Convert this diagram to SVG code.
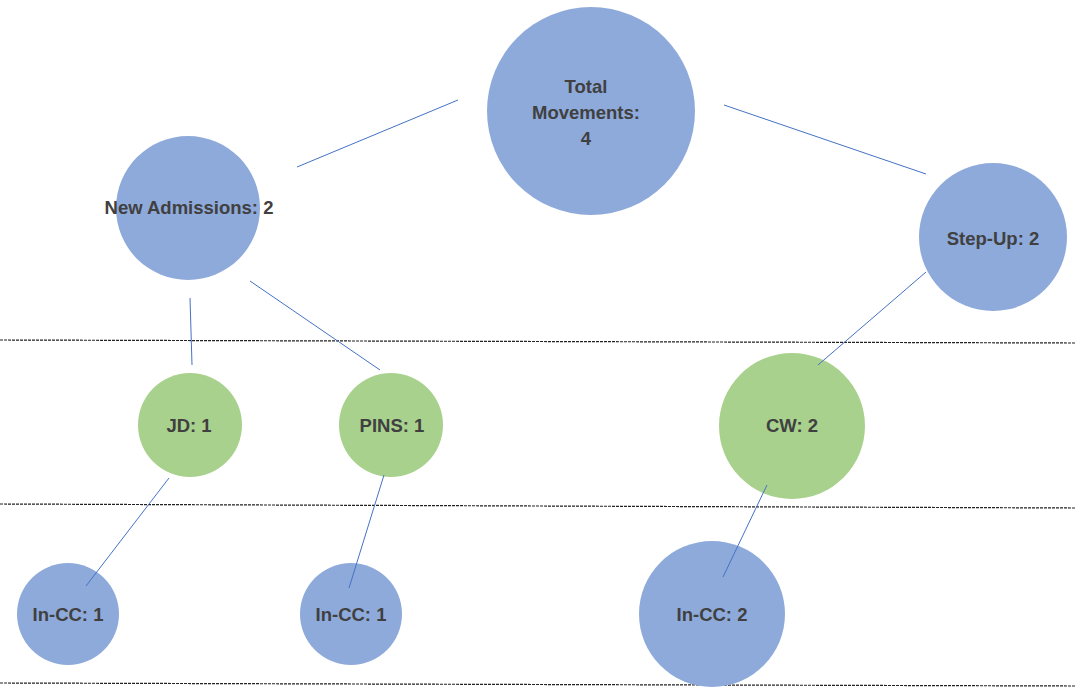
<svg xmlns="http://www.w3.org/2000/svg" width="1075" height="687" viewBox="0 0 1075 687">
<style>
.b{fill:#8EAADB}
.g{fill:#A9D18E}
text{font-family:"Liberation Sans",Arial,sans-serif;font-weight:bold;font-size:18.5px;fill:#404040;text-anchor:middle}
.c line{stroke:#4472C4;stroke-width:1}
.d line{stroke:#222;stroke-width:1.2;stroke-dasharray:3 1}
</style>
<rect width="1075" height="687" fill="#fff"/>
<g class="d">
<line x1="0" y1="340" x2="1075" y2="343"/>
<line x1="0" y1="504" x2="1075" y2="508"/>
<line x1="0" y1="683" x2="1075" y2="686"/>
</g>
<g id="total"><circle class="b" cx="591" cy="111" r="104"/><text x="586" y="93">Total</text><text x="586" y="119">Movements:</text><text x="586" y="145">4</text></g>
<g id="newadm"><circle class="b" cx="188" cy="208" r="72"/><text x="189" y="214">New Admissions: 2</text></g>
<g id="stepup"><circle class="b" cx="993" cy="237" r="74"/><text x="993" y="245">Step-Up: 2</text></g>
<g id="jd"><circle class="g" cx="190" cy="425" r="52"/><text x="189" y="432">JD: 1</text></g>
<g id="pins"><circle class="g" cx="391" cy="425" r="52"/><text x="392" y="432">PINS: 1</text></g>
<g id="cw"><circle class="g" cx="792" cy="426" r="73"/><text x="792" y="432">CW: 2</text></g>
<g id="incc1"><circle class="b" cx="68" cy="614" r="51"/><text x="68" y="621">In-CC: 1</text></g>
<g id="incc2"><circle class="b" cx="351" cy="614" r="51"/><text x="351" y="621">In-CC: 1</text></g>
<g id="incc3"><circle class="b" cx="712" cy="614" r="73"/><text x="712" y="621">In-CC: 2</text></g>
<g class="c">
<line x1="458" y1="100" x2="297" y2="167"/>
<line x1="724" y1="105" x2="926" y2="174"/>
<line x1="190" y1="298" x2="192" y2="365"/>
<line x1="250" y1="281" x2="380" y2="370"/>
<line x1="926" y1="272" x2="818" y2="365"/>
<line x1="169" y1="478" x2="86" y2="586"/>
<line x1="384" y1="475" x2="349" y2="588"/>
<line x1="767" y1="485" x2="723" y2="577"/>
</g>
</svg>
